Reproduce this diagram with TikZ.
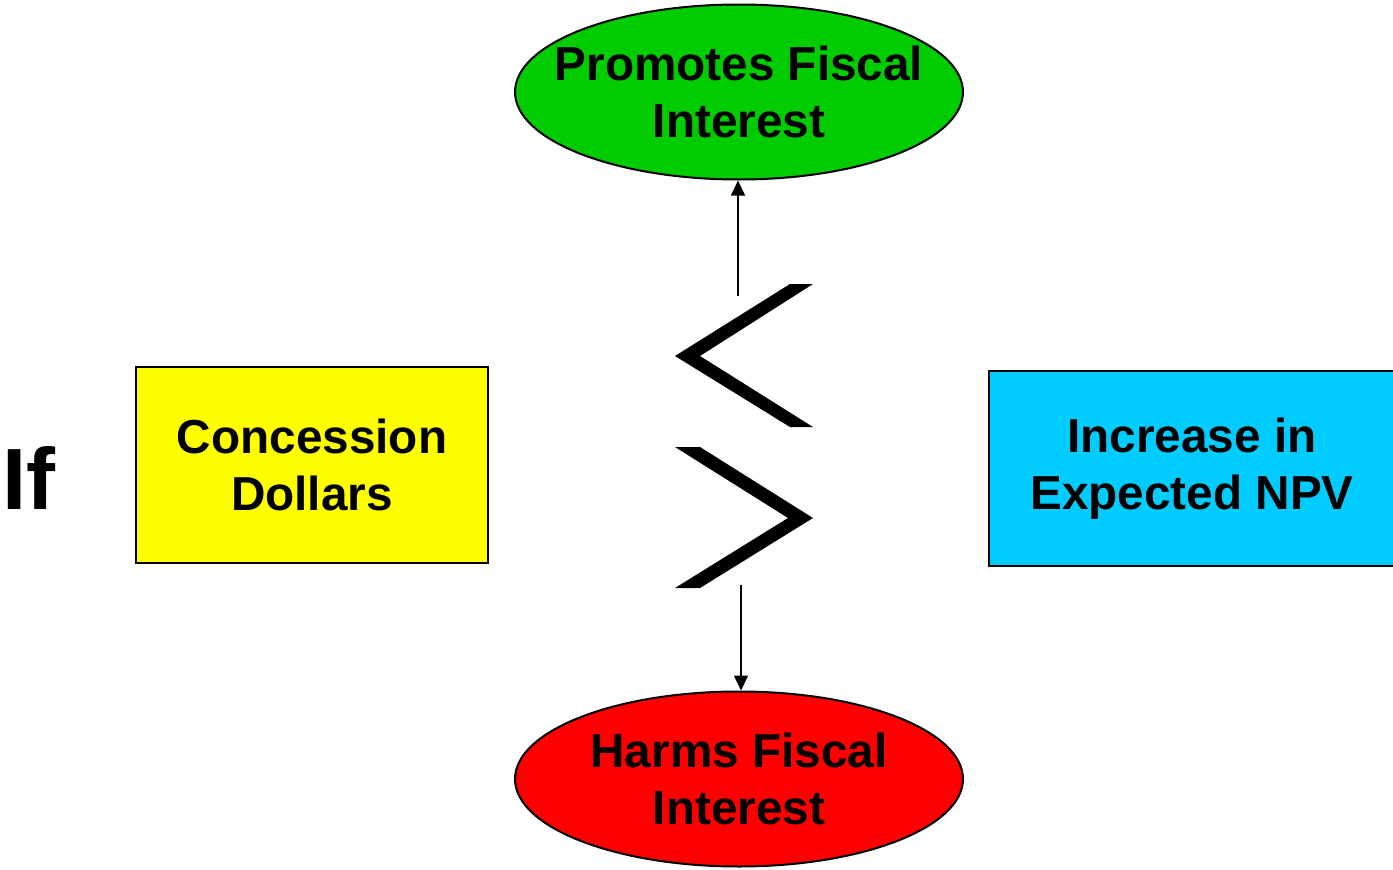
\documentclass[tikz,border=0pt]{standalone}
\usepackage{fontspec}
\setmainfont{Liberation Sans}
\usetikzlibrary{arrows.meta,shapes.geometric}
\definecolor{promotegreen}{RGB}{0,204,0}
\definecolor{concyellow}{RGB}{255,255,0}
\definecolor{npvblue}{RGB}{0,204,255}
\definecolor{harmred}{RGB}{255,0,0}
\tikzset{
  label font/.style={font=\fontsize{47.7}{57}\selectfont\bfseries, align=center, text=black},
  outcome/.style={ellipse, draw=black, line width=2pt, minimum width=448, minimum height=175, inner sep=0pt},
  outcome text/.style={label font, inner sep=0pt},
  factor/.style={rectangle, draw=black, line width=2pt, inner sep=0pt, label font},
  link/.style={line width=1.5pt, -{Triangle[length=15pt,width=14pt]}},
  chevron/.style={fill=black, draw=none}
}
\begin{document}
\begin{tikzpicture}[x=1pt,y=-1pt]
  \clip (0,0) rectangle (1393,870);
  \fill[white] (0,0) rectangle (1393,870);

  % outcomes (ellipse size fixed, text laid over the centre)
  \node[outcome, fill=promotegreen,
        label={[outcome text]center:{Promotes Fiscal\\Interest}}] (promote) at (739,92) {};
  \node[outcome, fill=harmred,
        label={[outcome text]center:{Harms Fiscal\\Interest}}] (harm) at (739,779) {};

  % compared quantities
  \node[factor, fill=concyellow, minimum width=352, minimum height=196] (conc) at (312,465) {Concession\\Dollars};
  \node[factor, fill=npvblue, minimum width=406, minimum height=195] (npv) at (1192,468.5) {Increase in\\Expected NPV};

  % leading word
  \node[font=\fontsize{87}{90}\selectfont\bfseries, anchor=base west, inner sep=0pt] (iftext) at (2,509) {If};

  % less-than and greater-than signs
  \fill[chevron] (813,284) -- (700,356) -- (813,427) -- (790,427) -- (675,356) -- (790,284) -- cycle;
  \fill[chevron] (675,447) -- (700,447) -- (813,518) -- (700,588) -- (675,588) -- (788,518) -- cycle;

  % arrows toward the outcomes
  \coordinate (upstart) at (738,296);
  \coordinate (downstart) at (741,585);
  \draw[link] (upstart) -- (upstart |- promote.south);
  \draw[link] (downstart) -- (downstart |- harm.north);
\end{tikzpicture}
\end{document}
